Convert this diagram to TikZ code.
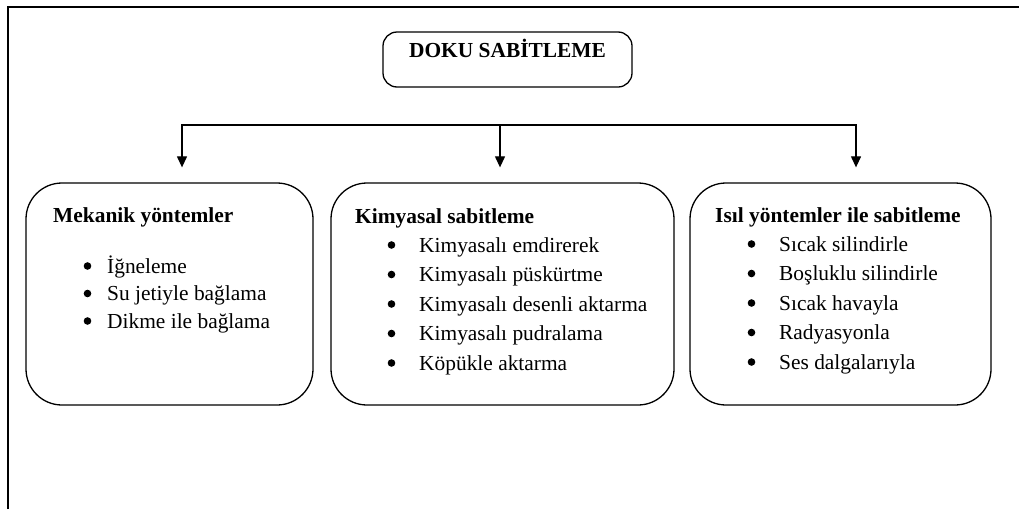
\documentclass[tikz,border=0pt]{standalone}
\usepackage{fontspec}
\setmainfont{Liberation Serif}
\usetikzlibrary{arrows.meta}

\begin{document}
\begin{tikzpicture}[x=1pt, y=-1pt,
        box/.style={draw, line width=1.3pt, rounded corners=36pt, inner sep=0pt},
        head/.style={anchor=base west, inner sep=0pt, font=\bfseries\fontsize{21.4}{26}\selectfont},
        item/.style={anchor=base west, inner sep=0pt, font=\fontsize{21.4}{26}\selectfont},
        arr/.style={-{Triangle[width=10pt,length=11pt]}, line width=1.2pt, shorten >=15pt}]
        \useasboundingbox (0, 0) rectangle (1019, 509);

        \draw [line width=2.6pt] (8, 509) -- (8, 7) -- (1019, 7);

        \node [draw, line width=1.3pt, rounded corners=14pt, inner sep=0pt,
               minimum width=249pt, text height=25pt, text depth=30pt, anchor=base,
               font=\bfseries\fontsize{21.4}{26}\selectfont] (root) at (507.5, 57) {DOKU SABİTLEME};

        \node [box, minimum width=287pt, minimum height=222pt] (mech) at (169.5, 294) {};
        \node [box, minimum width=343pt, minimum height=222pt] (chem) at (502.5, 294) {};
        \node [box, minimum width=301pt, minimum height=222pt] (therm) at (840.5, 294) {};

        \coordinate (bar-l) at (182, 125);
        \coordinate (bar-m) at (500, 125);
        \coordinate (bar-r) at (856, 125);
        \draw [line width=1.2pt, line cap=rect] (bar-l) -- (bar-r);
        \draw [arr] (bar-l) -- (bar-l |- mech.north);
        \draw [arr] (bar-m) -- (bar-m |- chem.north);
        \draw [arr] (bar-r) -- (bar-r |- therm.north);

        \node [head] (mech-h) at (53, 222) {Mekanik yöntemler};
        \foreach \t [count=\k from 0] in {İğneleme, Su jetiyle bağlama, Dikme ile bağlama}{
            \fill (87.5, {266+27.5*\k}) circle (3.8pt);
            \node [item] (mech-\k) at (107, {273+27.5*\k}) {\t};
        }

        \node [head] (chem-h) at (355, 223) {Kimyasal sabitleme};
        \foreach \t [count=\k from 0] in {Kimyasalı emdirerek, Kimyasalı püskürtme,
                Kimyasalı desenli aktarma, Kimyasalı pudralama, Köpükle aktarma}{
            \fill (391.5, {245+29.5*\k}) circle (3.8pt);
            \node [item] (chem-\k) at (419, {252+29.5*\k}) {\t};
        }

        \node [head] (therm-h) at (715, 222) {Isıl yöntemler ile sabitleme};
        \foreach \t [count=\k from 0] in {Sıcak silindirle, Boşluklu silindirle,
                Sıcak havayla, Radyasyonla, Ses dalgalarıyla}{
            \fill (751.5, {244+29.5*\k}) circle (3.8pt);
            \node [item] (therm-\k) at (779, {251+29.5*\k}) {\t};
        }

    \end{tikzpicture}
\end{document}
